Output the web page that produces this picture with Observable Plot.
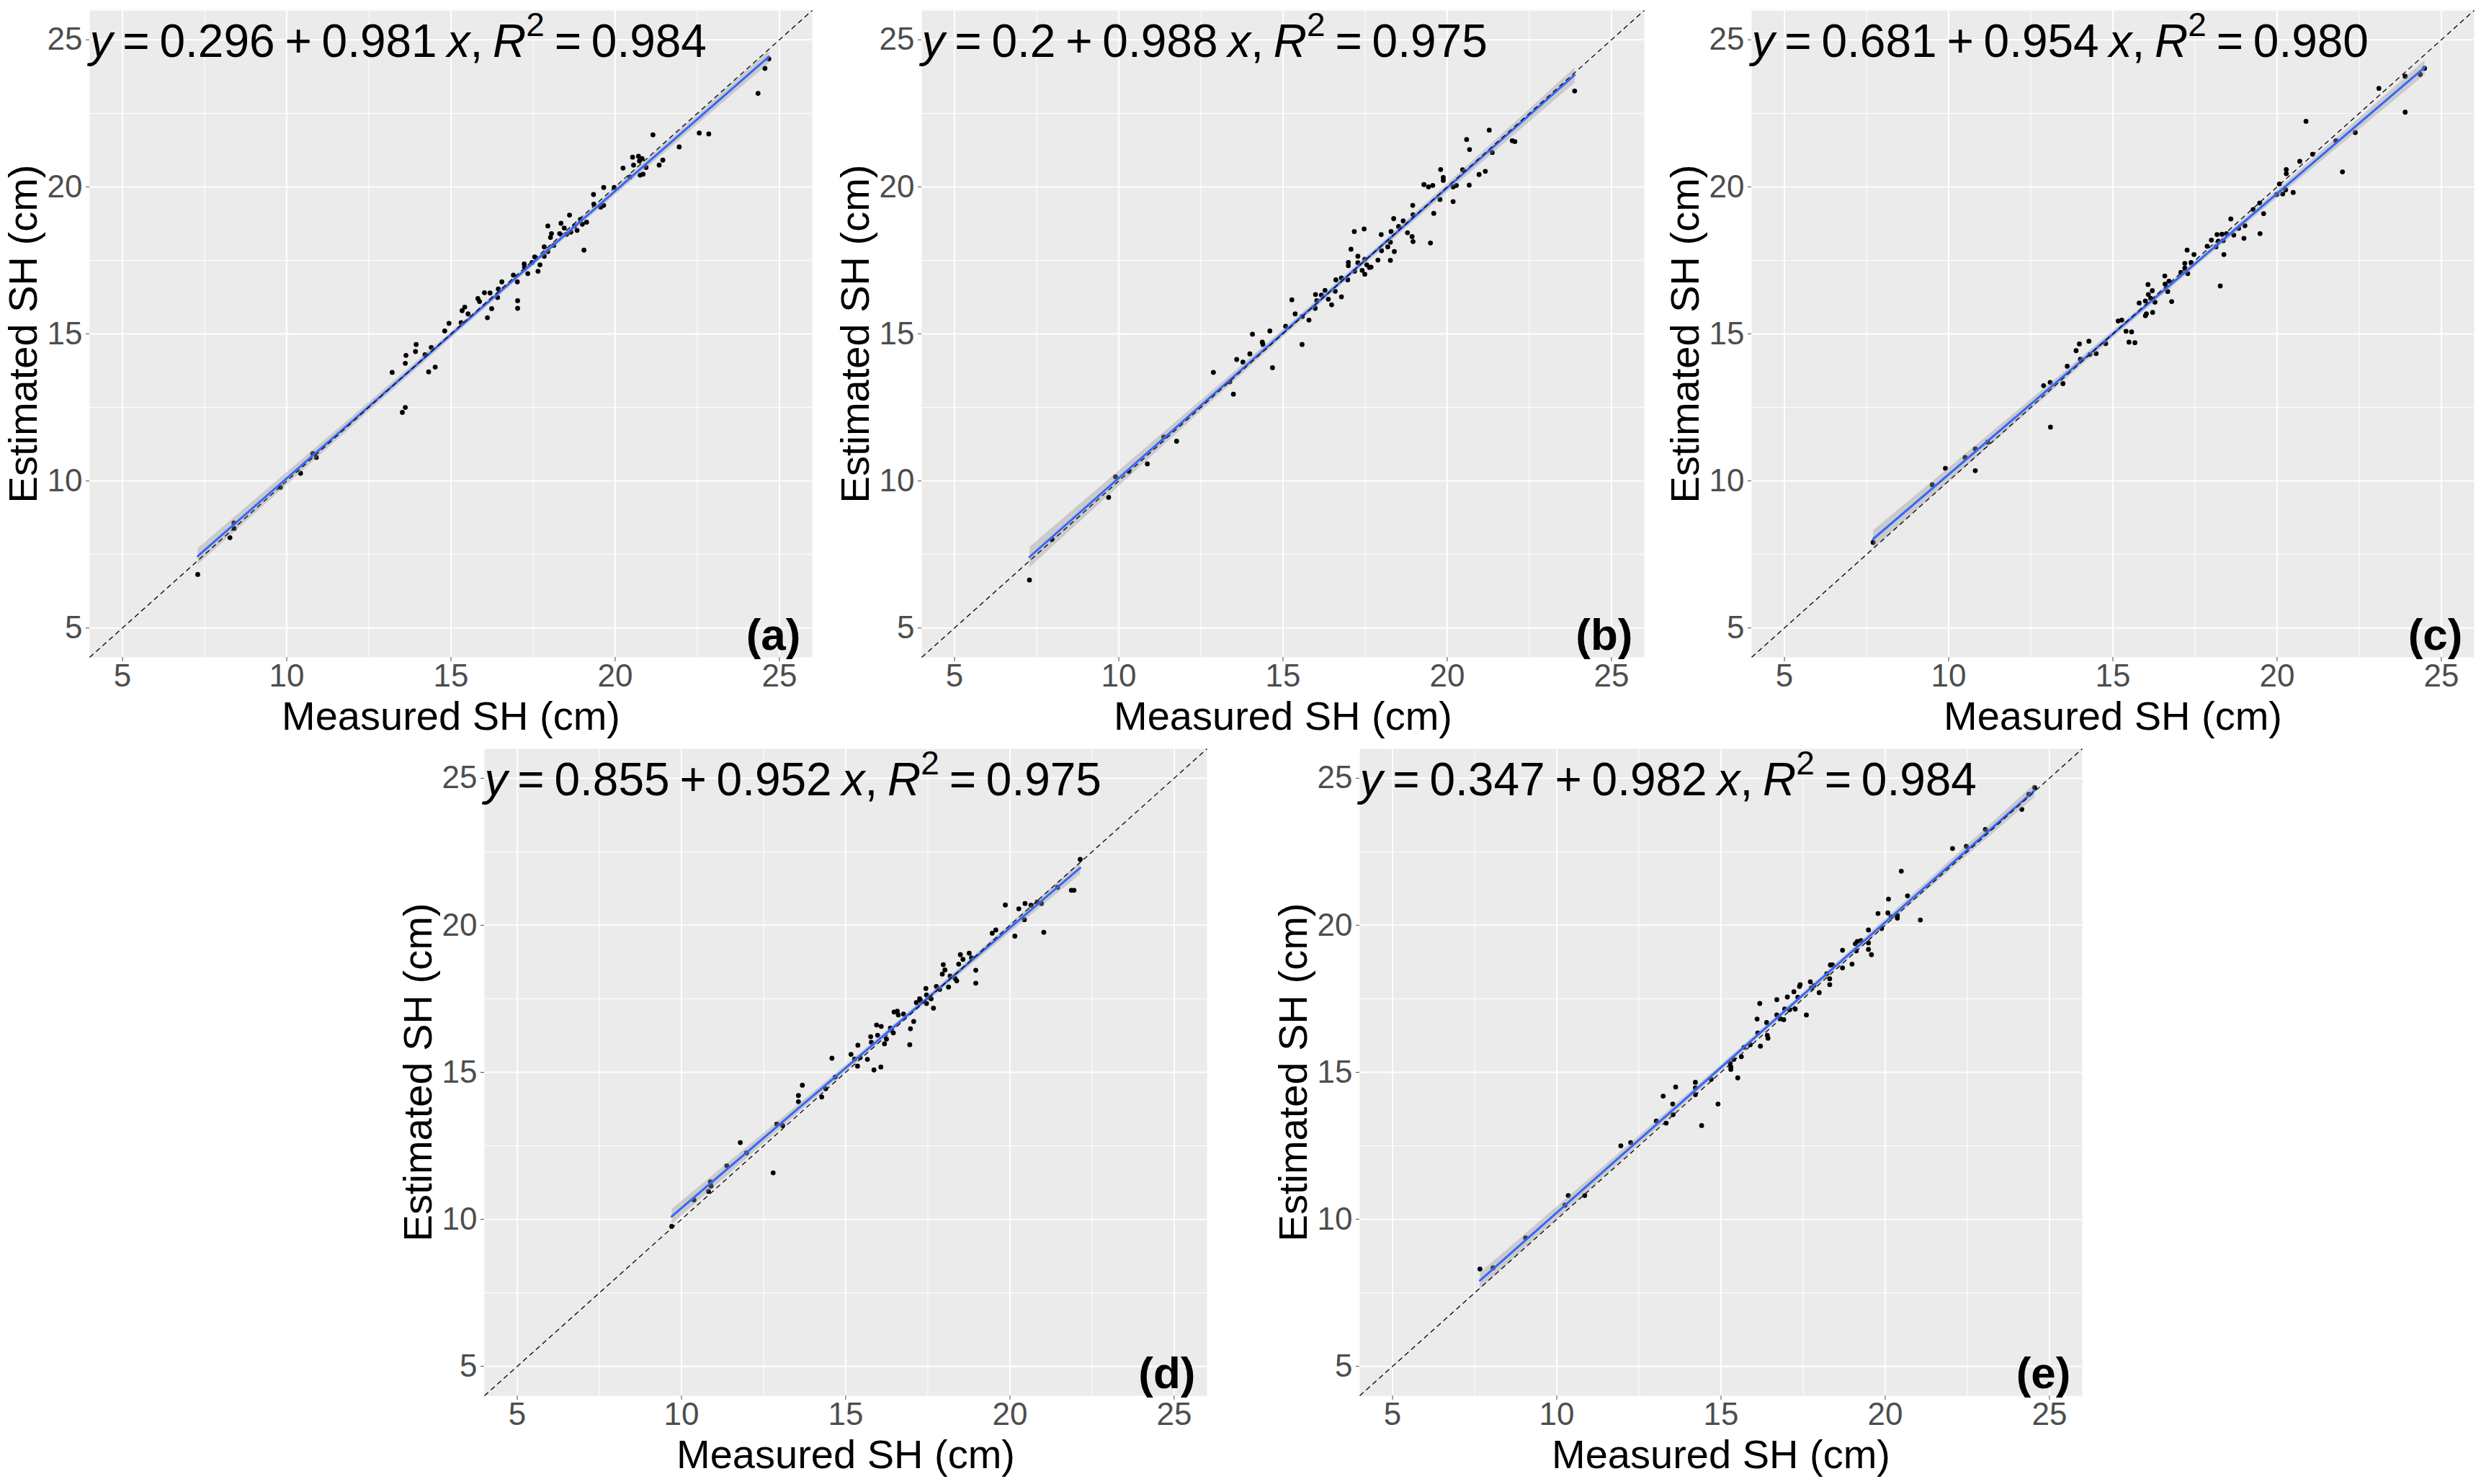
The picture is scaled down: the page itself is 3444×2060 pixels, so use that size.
<!DOCTYPE html>
<html><head><meta charset="utf-8">
<script src="https://cdn.jsdelivr.net/npm/d3@7"></script>
<script src="https://cdn.jsdelivr.net/npm/@observablehq/plot@0.6"></script>
<style>
html,body{margin:0;padding:0;background:#fff;overflow:hidden;}
#fig{position:relative;width:3444px;height:2060px;font-family:"Liberation Sans",Arial,sans-serif;}
#fig svg{position:absolute;}
</style></head><body><div id="fig"></div>
<script>
// ---- data ----
const measuredA = [7.29,8.27,8.39,8.40,9.81,10.42,10.79,10.90,13.21,13.52,13.61,13.61,13.63,13.92,13.94,14.21,14.32,14.40,14.52,14.81,14.94,15.31,15.34,15.42,15.52,15.82,15.87,16.02,16.11,16.19,16.24,16.42,16.44,16.55,16.90,17.02,17.03,17.03,17.23,17.24,17.34,17.47,17.55,17.65,17.71,17.84,17.84,17.95,17.95,18.03,18.06,18.13,18.31,18.35,18.45,18.52,18.61,18.65,18.76,18.84,18.94,19.00,19.05,19.13,19.34,19.35,19.56,19.65,19.65,19.97,20.24,20.45,20.53,20.56,20.71,20.74,20.76,20.82,20.85,20.94,21.15,21.34,21.45,21.95,22.56,22.85,24.35,24.56,24.68];
const estimatedA = [6.82,8.07,8.57,8.38,9.78,10.26,10.93,10.80,13.69,12.33,12.50,14.00,14.27,14.40,14.64,14.29,13.71,14.54,13.87,15.10,15.36,15.38,15.79,15.91,15.68,16.20,16.10,16.40,15.55,16.39,15.86,16.24,16.53,16.77,17.00,16.77,16.13,15.87,17.38,17.27,17.05,17.43,17.62,17.13,17.35,17.64,17.96,17.80,18.67,18.28,18.41,18.01,18.41,18.76,18.60,18.39,19.04,18.46,18.67,18.52,18.89,18.73,17.85,18.80,19.74,19.41,19.31,19.37,19.98,19.98,20.64,20.34,21.01,20.74,21.04,20.88,20.40,20.96,20.43,20.66,21.77,20.74,20.91,21.36,21.83,21.80,23.18,24.03,24.35];

const measuredB = [7.28,7.97,9.69,9.90,10.31,10.87,11.37,11.76,12.88,13.38,13.49,13.59,13.78,13.99,14.07,14.37,14.39,14.60,14.68,15.08,15.27,15.37,15.58,15.59,15.79,15.98,15.99,16.03,16.17,16.28,16.38,16.48,16.59,16.61,16.78,16.78,16.97,16.99,16.99,17.07,17.17,17.18,17.28,17.28,17.41,17.47,17.49,17.49,17.55,17.63,17.68,17.89,17.99,18.00,18.19,18.27,18.27,18.29,18.37,18.39,18.52,18.66,18.79,18.93,18.95,18.96,18.96,19.29,19.43,19.49,19.56,19.59,19.78,19.80,19.88,19.88,20.18,20.18,20.28,20.47,20.59,20.67,20.68,20.97,21.16,21.28,21.37,21.98,22.06,23.88];
const estimatedB = [6.63,8.01,9.44,10.14,10.32,10.58,11.49,11.35,13.69,13.37,12.95,14.13,14.04,14.32,14.99,14.72,14.64,15.10,13.85,15.26,16.16,15.68,14.64,15.59,15.47,15.87,16.34,16.13,16.32,16.48,16.18,15.99,16.45,16.84,16.26,16.90,16.84,17.32,17.43,17.88,18.48,17.13,17.64,17.42,17.16,18.57,17.03,17.54,17.35,17.26,17.27,17.51,18.38,17.83,17.96,17.50,18.12,18.48,18.92,17.80,18.65,18.84,18.44,18.31,19.37,19.05,18.14,20.08,20.00,18.09,20.05,19.10,19.57,20.59,20.32,20.22,20.00,19.50,20.05,20.58,21.61,20.06,21.27,20.42,20.53,21.93,21.17,21.57,21.54,23.26];

const measuredC = [7.70,9.50,9.90,10.50,10.81,10.81,11.19,12.89,13.09,13.10,13.48,13.61,13.88,13.98,14.01,14.27,14.30,14.49,14.78,15.16,15.27,15.40,15.49,15.57,15.67,15.80,15.99,15.99,16.02,16.07,16.08,16.15,16.20,16.21,16.28,16.58,16.59,16.67,16.71,16.79,17.07,17.19,17.19,17.26,17.28,17.38,17.47,17.87,18.00,18.14,18.17,18.21,18.27,18.32,18.36,18.38,18.46,18.59,18.68,18.83,18.99,19.02,19.27,19.47,19.48,19.59,19.99,20.07,20.17,20.26,20.28,20.28,20.49,20.69,20.88,21.08,21.79,21.99,22.38,23.10,23.90,23.90,24.36,24.49];
const estimatedC = [7.91,9.87,10.43,10.80,11.09,10.35,11.32,13.24,13.35,11.83,13.31,13.90,14.43,14.66,14.14,14.75,14.30,14.33,14.67,15.44,15.47,15.09,14.72,15.07,14.70,16.05,16.12,15.62,15.68,16.68,16.34,16.21,16.47,15.73,16.08,16.97,16.69,16.44,16.79,16.10,17.09,17.40,17.24,17.85,17.05,17.43,17.70,17.98,18.19,17.96,18.38,18.15,16.63,18.39,18.17,17.70,18.41,18.91,18.36,18.59,18.25,18.68,19.23,19.45,18.41,19.09,19.74,20.10,19.76,19.90,20.45,20.59,19.81,20.87,22.23,21.11,21.57,20.51,21.85,23.35,23.76,22.54,23.82,24.03];

const measuredD = [9.70,10.38,10.82,10.88,10.90,11.38,11.79,11.98,12.79,12.90,13.08,13.56,13.56,13.68,14.27,14.39,14.58,14.68,15.16,15.27,15.36,15.37,15.44,15.66,15.76,15.78,15.86,15.94,15.97,16.07,16.08,16.18,16.24,16.36,16.45,16.47,16.57,16.60,16.76,16.95,16.97,17.07,17.15,17.25,17.28,17.44,17.46,17.46,17.54,17.60,17.67,17.76,17.86,17.94,17.97,18.02,18.13,18.18,18.33,18.38,18.44,18.49,18.57,18.76,18.83,18.96,18.96,19.46,19.57,19.86,20.15,20.27,20.44,20.46,20.64,20.83,20.96,21.03,21.45,21.87,21.95,22.14];
const estimatedD = [9.76,10.66,10.95,11.27,11.13,11.82,12.61,12.26,11.58,13.24,13.19,14.00,14.21,14.56,14.16,14.44,15.48,14.84,15.61,15.45,15.21,15.92,15.50,15.44,16.21,16.02,15.08,16.61,16.26,15.18,16.56,15.97,16.13,16.50,16.34,17.05,17.08,16.95,16.98,15.94,16.48,16.73,17.37,17.50,17.44,17.85,17.34,17.63,17.55,17.50,17.18,17.92,17.82,18.34,18.66,18.48,17.90,18.27,18.19,18.11,18.68,19.00,18.84,19.05,18.89,18.47,18.03,19.73,19.84,20.69,19.63,20.56,20.19,20.74,20.68,20.79,20.74,19.76,21.29,21.19,21.19,22.24];

const measuredE = [7.66,8.06,9.05,10.25,10.35,10.85,11.95,12.25,13.03,13.24,13.33,13.53,13.54,13.62,14.22,14.22,14.22,14.41,14.70,14.91,15.28,15.30,15.30,15.39,15.51,15.62,15.70,15.89,16.10,16.12,16.18,16.20,16.39,16.41,16.43,16.70,16.70,16.80,16.91,16.94,17.02,17.09,17.22,17.26,17.34,17.39,17.41,17.60,17.72,17.75,17.83,17.99,18.22,18.31,18.31,18.33,18.39,18.70,18.70,18.99,19.09,19.12,19.15,19.26,19.49,19.49,19.49,19.58,19.78,19.89,20.08,20.10,20.18,20.37,20.37,20.49,20.68,21.07,22.05,22.47,23.05,24.16,24.37,24.55];
const estimatedE = [8.31,8.35,9.37,10.48,10.81,10.81,12.50,12.61,13.34,14.19,13.27,13.92,13.56,14.50,14.66,14.47,14.24,13.19,14.76,13.92,15.31,15.18,15.10,15.44,14.81,15.53,15.85,15.94,16.81,16.34,17.34,15.89,16.69,16.26,16.16,17.47,16.95,16.82,16.79,17.15,17.56,17.13,17.74,17.15,17.55,17.92,17.98,16.95,18.08,17.87,17.95,17.71,18.35,18.18,17.98,18.65,18.65,19.15,18.55,18.68,19.37,19.13,19.45,19.48,19.40,19.84,19.18,19.00,20.40,19.89,20.42,20.89,20.29,20.34,20.24,21.84,21.00,20.18,22.61,22.68,23.26,23.94,24.45,24.68];

const panelLabels = ["(a)", "(b)", "(c)", "(d)", "(e)"];
const intercepts = ["0.296", "0.2", "0.681", "0.855", "0.347"];
const slopes = ["0.981", "0.988", "0.954", "0.952", "0.982"];
const rSquared = ["0.984", "0.975", "0.980", "0.975", "0.984"];
const majorTicks = [5, 10, 15, 20, 25];
const minorTicks = [7.5, 12.5, 17.5, 22.5];
const axisDomain = [4, 26];
const xTitle = "Measured SH (cm)";
const yTitle = "Estimated SH (cm)";

const measured = [measuredA, measuredB, measuredC, measuredD, measuredE];
const estimated = [estimatedA, estimatedB, estimatedC, estimatedD, estimatedE];

// ---- layout ----
const W = 1003, H = 898, mL = 124, mT = 14, mB = 120, mR = 1;
const positions = [
  {left: 124, top: 14}, {left: 1279, top: 14}, {left: 2431, top: 14},
  {left: 672, top: 1039}, {left: 1887, top: 1039}
];
const FONT = '"Liberation Sans", Arial, sans-serif';
const SVGNS = "http://www.w3.org/2000/svg";
const fig = document.getElementById("fig");

function tspan(parent, text, attrs = {}) {
  const s = document.createElementNS(SVGNS, "tspan");
  s.textContent = text;
  for (const k in attrs) s.setAttribute(k, attrs[k]);
  parent.appendChild(s);
}

for (let i = 0; i < 5; i++) {
  const pts = measured[i].map((m, j) => ({x: m, y: estimated[i][j]}));
  const eqText = `y = ${intercepts[i]} + ${slopes[i]} x, R2 = ${rSquared[i]}`;
  const svg = Plot.plot({
    width: mL + W + mR,
    height: mT + H + mB,
    marginLeft: mL, marginTop: mT, marginBottom: mB, marginRight: mR,
    style: {fontFamily: FONT, background: "transparent", overflow: "visible"},
    x: {domain: axisDomain},
    y: {domain: axisDomain},
    marks: [
      Plot.frame({fill: "#EBEBEB", stroke: "none"}),
      Plot.ruleX(minorTicks, {stroke: "white", strokeWidth: 1.0}),
      Plot.ruleY(minorTicks, {stroke: "white", strokeWidth: 1.0}),
      Plot.ruleX(majorTicks, {stroke: "white", strokeWidth: 1.9}),
      Plot.ruleY(majorTicks, {stroke: "white", strokeWidth: 1.9}),
      Plot.axisX({ticks: majorTicks, tickSize: 6, tickPadding: 3, fontSize: 44, color: "#4D4D4D", label: null}),
      Plot.axisY({ticks: majorTicks, tickSize: 5, tickPadding: 5, fontSize: 44, color: "#4D4D4D", label: null}),
      Plot.text([xTitle], {frameAnchor: "bottom", dy: 83, textAnchor: "middle", lineAnchor: "middle", fontSize: 56, fill: "black"}),
      Plot.text([yTitle], {frameAnchor: "left", dx: -91, rotate: -90, textAnchor: "middle", lineAnchor: "middle", fontSize: 56, fill: "black"}),
      Plot.dot(pts, {x: "x", y: "y", r: 3.4, fill: "black", stroke: "none"}),
      Plot.linearRegressionY(pts, {x: "x", y: "y", stroke: "#3366FF", strokeWidth: 3, fill: "#999999", fillOpacity: 0.4, ci: 0.95}),
      Plot.link([axisDomain], {x1: d => d[0], y1: d => d[0], x2: d => d[1], y2: d => d[1], stroke: "black", strokeWidth: 1.3, strokeDasharray: "7,5"}),
      Plot.text([eqText], {frameAnchor: "top-left", dx: 0, dy: 44, textAnchor: "start", lineAnchor: "middle", fontSize: 64, fill: "black", className: "eq"}),
      Plot.text([panelLabels[i]], {frameAnchor: "bottom-right", dx: -16, dy: -30, textAnchor: "end", lineAnchor: "middle", fontSize: 62, fontWeight: "bold", fill: "black"})
    ]
  });
  // rich equation text: italic variables and superscript
  const t = svg.querySelector(".eq text");
  if (t) {
    t.textContent = "";
    t.setAttribute("word-spacing", "-4");
    tspan(t, "y", {"font-style": "italic"});
    tspan(t, ` = ${intercepts[i]} + ${slopes[i]} `);
    tspan(t, "x", {"font-style": "italic"});
    tspan(t, ", ");
    tspan(t, "R", {"font-style": "italic"});
    tspan(t, "2", {"font-size": "46", "dy": "-29"});
    tspan(t, ` = ${rSquared[i]}`, {"dy": "29"});
  }
  svg.style.left = (positions[i].left - mL) + "px";
  svg.style.top = (positions[i].top - mT) + "px";
  fig.appendChild(svg);
}
</script>
</body></html>
